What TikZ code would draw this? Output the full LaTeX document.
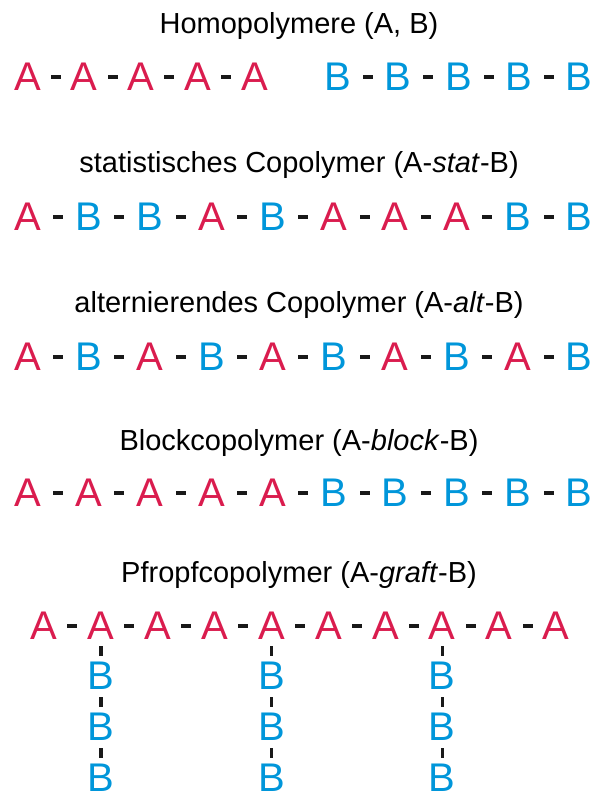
\documentclass[tikz,border=0pt]{standalone}
\usepackage{fontspec}
\setmainfont{Liberation Sans}
\definecolor{colA}{RGB}{218,28,78}
\definecolor{colB}{RGB}{0,150,218}
\definecolor{bondblack}{RGB}{25,25,25}
\newcommand\chainfont{\fontsize{40}{40}\selectfont}
\newcommand\headfont{\fontsize{29}{29}\selectfont}
\tikzset{
  unit/.style={font=\chainfont, inner sep=0pt},
  bond/.style={fill=bondblack, minimum width=10pt, minimum height=3.5pt,
               inner sep=0pt, sloped},
  heading/.style={font=\headfont, anchor=base, inner sep=0pt, text=black},
}
\begin{document}
\begin{tikzpicture}[x=1pt,y=-1pt]
\useasboundingbox[fill=white] (0,0) rectangle (594,798);

% headings
\node[heading] (t1) at (299,33) {Homopolymere (A, B)};
\node[heading] (t2) at (299,172) {statistisches Copolymer (A-\textit{stat}-B)};
\node[heading] (t3) at (299,312) {alternierendes Copolymer (A-\textit{alt}-B)};
\node[heading] (t4) at (299,450) {Blockcopolymer (A-\textit{block}-B)};
\node[heading] (t5) at (299,582) {Pfropfcopolymer (A-\textit{graft}-B)};

% homopolymers
\foreach \i in {1,...,5} {
  \node[unit, text=colA] (ha\i) at ({27.5+56.75*(\i-1)},77) {A};
  \node[unit, text=colB] (hb\i) at ({338+60.25*(\i-1)},77) {B};
}
\foreach \i [evaluate=\i as \j using int(\i+1)] in {1,...,4} {
  \path (ha\i) -- node[bond]{} (ha\j);
  \path (hb\i) -- node[bond]{} (hb\j);
}

% statistical copolymer
\foreach \s [count=\i] in {A,B,B,A,B,A,A,A,B,B}
  \node[unit, text=col\s] (st\i) at ({27.5+61.3*(\i-1)},217) {\s};
\foreach \i [evaluate=\i as \j using int(\i+1)] in {1,...,9}
  \path (st\i) -- node[bond]{} (st\j);

% alternating copolymer
\foreach \s [count=\i] in {A,B,A,B,A,B,A,B,A,B}
  \node[unit, text=col\s] (al\i) at ({27.5+61.3*(\i-1)},357) {\s};
\foreach \i [evaluate=\i as \j using int(\i+1)] in {1,...,9}
  \path (al\i) -- node[bond]{} (al\j);

% block copolymer
\foreach \s [count=\i] in {A,A,A,A,A,B,B,B,B,B}
  \node[unit, text=col\s] (bl\i) at ({27.5+61.3*(\i-1)},493) {\s};
\foreach \i [evaluate=\i as \j using int(\i+1)] in {1,...,9}
  \path (bl\i) -- node[bond]{} (bl\j);

% graft copolymer: backbone
\foreach \i in {1,...,10}
  \node[unit, text=colA] (gr\i) at ({44+56.9*(\i-1)},626) {A};
\foreach \i [evaluate=\i as \j using int(\i+1)] in {1,...,9}
  \path (gr\i) -- node[bond]{} (gr\j);

% graft copolymer: side chains
\foreach \k in {2,5,8} {
  \node[unit, text=colB] (sc\k a) at ({44+56.9*(\k-1)},676) {B};
  \node[unit, text=colB] (sc\k b) at ({44+56.9*(\k-1)},727) {B};
  \node[unit, text=colB] (sc\k c) at ({44+56.9*(\k-1)},778) {B};
  \path (gr\k) -- node[bond]{} (sc\k a);
  \path (sc\k a) -- node[bond]{} (sc\k b);
  \path (sc\k b) -- node[bond]{} (sc\k c);
}
\end{tikzpicture}
\end{document}
